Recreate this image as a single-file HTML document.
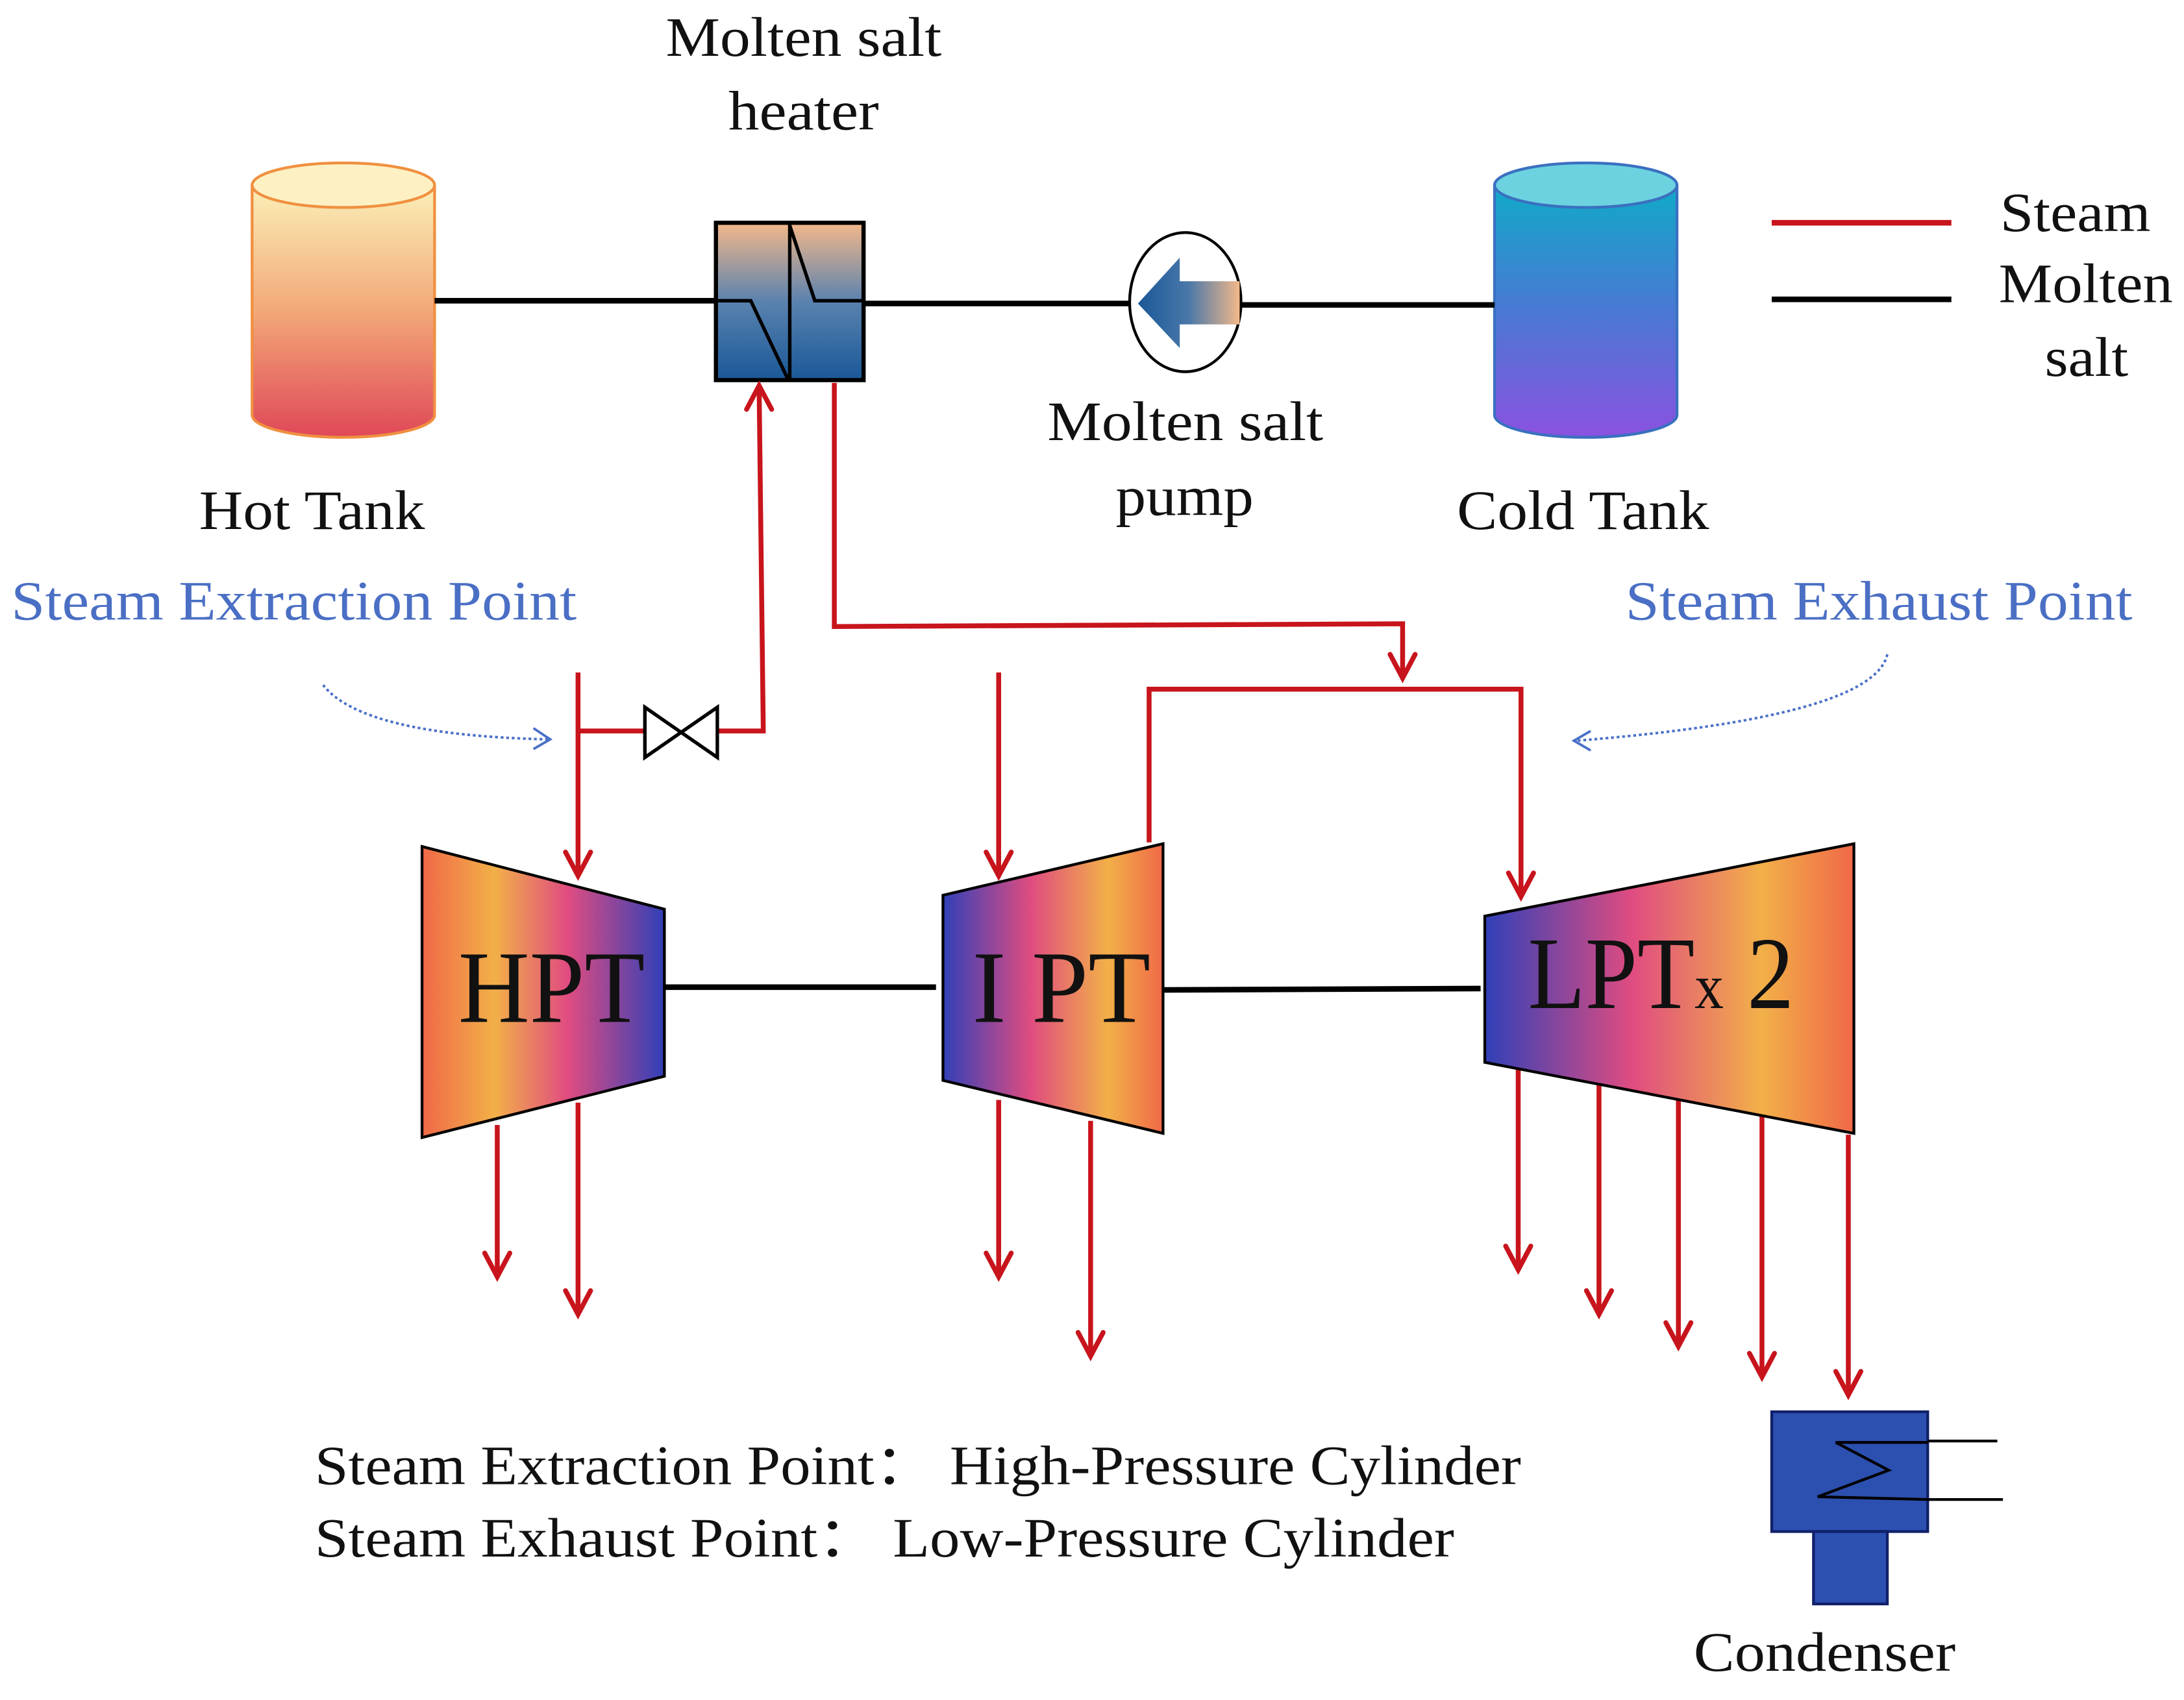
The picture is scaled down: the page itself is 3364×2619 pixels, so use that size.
<!DOCTYPE html>
<html><head><meta charset="utf-8"><style>html,body{margin:0;padding:0;background:#fff}svg{display:block}</style></head>
<body>
<svg width="3364" height="2619" viewBox="0 0 1568 1221" preserveAspectRatio="none" xmlns="http://www.w3.org/2000/svg" font-family="'Liberation Serif', serif">
<defs>
<linearGradient id="hot" x1="0" y1="0" x2="0" y2="1"><stop offset="0" stop-color="#fbf0b8"/><stop offset="0.5" stop-color="#f2a878"/><stop offset="1" stop-color="#e04858"/></linearGradient>
<linearGradient id="cold" x1="0" y1="0" x2="0" y2="1"><stop offset="0" stop-color="#10aac8"/><stop offset="0.5" stop-color="#4a78d4"/><stop offset="1" stop-color="#8a52e0"/></linearGradient>
<linearGradient id="hx" x1="0" y1="0" x2="0" y2="1"><stop offset="0" stop-color="#f4b88a"/><stop offset="0.5" stop-color="#5a82ae"/><stop offset="1" stop-color="#1a5898"/></linearGradient>
<linearGradient id="pa" x1="0" y1="0" x2="1" y2="0"><stop offset="0" stop-color="#1a5898"/><stop offset="0.5" stop-color="#4a78a8"/><stop offset="1" stop-color="#f4b88a"/></linearGradient>
<linearGradient id="tl" x1="0" y1="0" x2="1" y2="0"><stop offset="0" stop-color="#f06848"/><stop offset="0.3" stop-color="#f2b048"/><stop offset="0.6" stop-color="#e04c80"/><stop offset="1" stop-color="#3040b8"/></linearGradient>
<linearGradient id="tr" x1="0" y1="0" x2="1" y2="0"><stop offset="0" stop-color="#3040b8"/><stop offset="0.4" stop-color="#e04c80"/><stop offset="0.75" stop-color="#f2b048"/><stop offset="1" stop-color="#f06848"/></linearGradient>
</defs>

<path d="M181,133 V298 A65,16 0 0 0 312,298 V133" fill="url(#hot)" stroke="#f09040" stroke-width="2"/>
<ellipse cx="246.5" cy="133" rx="65.5" ry="16" fill="#fdf1c4" stroke="#f09040" stroke-width="2"/>
<path d="M1073,133 V298 A65,16 0 0 0 1204,298 V133" fill="url(#cold)" stroke="#3a70c0" stroke-width="2"/>
<ellipse cx="1138.5" cy="133" rx="65.5" ry="16" fill="#6cd2e0" stroke="#3a70c0" stroke-width="2"/>

<g stroke="#000" stroke-width="4" fill="none">
<line x1="312" y1="216" x2="514" y2="216"/>
<line x1="620" y1="218" x2="812" y2="218"/>
<line x1="890" y1="219" x2="1073" y2="219"/>
<line x1="477" y1="709" x2="672" y2="709"/>
<line x1="835" y1="711" x2="1063" y2="710"/>
<line x1="1272" y1="160" x2="1401" y2="160" stroke="#c8141c"/>
<line x1="1272" y1="215" x2="1401" y2="215"/>
</g>

<rect x="514" y="160" width="106" height="113" fill="url(#hx)" stroke="#000" stroke-width="3"/>
<g stroke="#000" stroke-width="2.5" fill="none">
<line x1="567" y1="160" x2="567" y2="273"/>
<polyline points="514,216 539,216 566,273"/>
<polyline points="567,162 585,216 620,216"/>
</g>

<ellipse cx="851" cy="217" rx="40" ry="50" fill="#fff" stroke="#000" stroke-width="2"/>
<polygon points="817,218 847,185 847,202 890,202 890,233 847,233 847,250" fill="url(#pa)"/>

<g stroke="#c8141c" stroke-width="3.5" fill="none">
<polyline points="415,525 463,525"/>
<polyline points="515,525 548,525 545,278"/>
<polyline points="415,483 415,628"/>
<polyline points="599,275 599,450 1007,448 1007,486"/>
<polyline points="825,605 825,495 1092,495 1092,643"/>
<polyline points="717,483 717,628"/>
<polyline points="357,808 357,916"/>
<polyline points="415,792 415,943"/>
<polyline points="717,790 717,916"/>
<polyline points="783,805 783,973"/>
<polyline points="1090,768 1090,911"/>
<polyline points="1148,776 1148,943"/>
<polyline points="1205,790 1205,966"/>
<polyline points="1265,800 1265,988"/>
<polyline points="1327,815 1327,1001"/>
</g>
<g stroke="#c8141c" stroke-width="3.5" fill="none" stroke-linecap="round">
<polyline points="536,294 545,277 554,294"/>
<polyline points="406,612 415,629 424,612"/>
<polyline points="998,470 1007,487 1016,470"/>
<polyline points="1083,627 1092,644 1101,627"/>
<polyline points="708,612 717,629 726,612"/>
<polyline points="348,900 357,917 366,900"/>
<polyline points="406,927 415,944 424,927"/>
<polyline points="708,900 717,917 726,900"/>
<polyline points="774,957 783,974 792,957"/>
<polyline points="1081,895 1090,912 1099,895"/>
<polyline points="1139,927 1148,944 1157,927"/>
<polyline points="1196,950 1205,967 1214,950"/>
<polyline points="1256,972 1265,989 1274,972"/>
<polyline points="1318,985 1327,1002 1336,985"/>
</g>
<polygon points="463,508 515,544 515,508 463,544" fill="#fff" stroke="#000" stroke-width="2.5"/>

<polygon points="303,608 477,653 477,773 303,817" fill="url(#tl)" stroke="#000" stroke-width="2"/>
<polygon points="677,643 835,606 835,814 677,776" fill="url(#tr)" stroke="#000" stroke-width="2"/>
<polygon points="1066,658 1331,606 1331,814 1066,763" fill="url(#tr)" stroke="#000" stroke-width="2"/>
<g font-size="74" fill="#111">
<text x="329" y="734" textLength="134" lengthAdjust="spacingAndGlyphs">HPT</text>
<text x="698" y="734" textLength="128" lengthAdjust="spacingAndGlyphs">I PT</text>
<text x="1097" y="724" textLength="191" lengthAdjust="spacingAndGlyphs">LPT<tspan font-size="46">x</tspan> 2</text>
</g>

<rect x="1272" y="1014" width="112" height="86" fill="#2c50b0" stroke="#10206a" stroke-width="2"/>
<rect x="1302" y="1100" width="53" height="52" fill="#2c50b0" stroke="#10206a" stroke-width="2"/>
<g stroke="#000" stroke-width="2" fill="none">
<line x1="1384" y1="1035" x2="1434" y2="1035"/>
<line x1="1384" y1="1077" x2="1438" y2="1077"/>
<polyline points="1384,1036 1318,1036 1356,1056 1305,1075 1384,1077"/>
</g>

<g stroke="#4a70c8" stroke-width="1.8" fill="none" stroke-dasharray="2,2">
<path d="M232,492 Q260,528 393,531"/>
<path d="M1355,470 Q1345,515 1132,532"/>
</g>
<g stroke="#4a70c8" stroke-width="1.8" fill="none">
<polyline points="383,523 395,531 383,538"/>
<polyline points="1142,525 1130,532 1142,539"/>
</g>

<g font-size="40" fill="#111" lengthAdjust="spacingAndGlyphs">
<text x="478" y="40" textLength="198" lengthAdjust="spacingAndGlyphs">Molten salt</text>
<text x="523" y="93" textLength="108" lengthAdjust="spacingAndGlyphs">heater</text>
<text x="143" y="380" textLength="162" lengthAdjust="spacingAndGlyphs">Hot Tank</text>
<text x="752" y="316" textLength="198" lengthAdjust="spacingAndGlyphs">Molten salt</text>
<text x="801" y="370" textLength="99" lengthAdjust="spacingAndGlyphs">pump</text>
<text x="1046" y="380" textLength="181" lengthAdjust="spacingAndGlyphs">Cold Tank</text>
<text x="1436" y="166" textLength="108" lengthAdjust="spacingAndGlyphs">Steam</text>
<text x="1435" y="217" textLength="125" lengthAdjust="spacingAndGlyphs">Molten</text>
<text x="1468" y="270" textLength="60" lengthAdjust="spacingAndGlyphs">salt</text>
<text x="1216" y="1200" textLength="188" lengthAdjust="spacingAndGlyphs">Condenser</text>
</g>
<g font-size="40" fill="#4a6fc4">
<text x="8" y="445" textLength="406" lengthAdjust="spacingAndGlyphs">Steam Extraction Point</text>
<text x="1167" y="445" textLength="364" lengthAdjust="spacingAndGlyphs">Steam Exhaust Point</text>
</g>
<g font-size="40" fill="#111">
<text x="226" y="1066" textLength="866" lengthAdjust="spacingAndGlyphs">Steam Extraction Point：  High-Pressure Cylinder</text>
<text x="226" y="1118" textLength="818" lengthAdjust="spacingAndGlyphs">Steam Exhaust Point：  Low-Pressure Cylinder</text>
</g>
</svg>
</body></html>
